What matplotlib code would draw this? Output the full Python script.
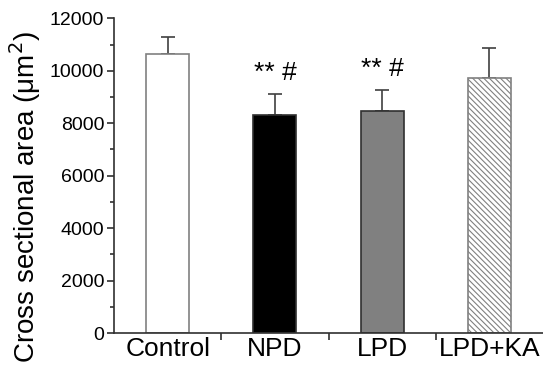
import matplotlib
matplotlib.use("Agg")
import matplotlib.pyplot as plt
import numpy as np

plt.rcParams['font.family'] = ['Liberation Sans', 'DejaVu Sans']
plt.rcParams['hatch.linewidth'] = 0.8

categories = ["Control", "NPD", "LPD", "LPD+KA"]
means = [10650, 8330, 8480, 9720]
errors = [640, 780, 780, 1170]
annotations = ["", "** #", "** #", ""]
fill_colors = ["white", "black", "#808080", "white"]
edge_colors = ["#808080", "#303030", "#303030", "#808080"]
hatches = [None, None, None, "\\\\\\\\\\\\"]

fig = plt.figure(figsize=(5.43, 3.71), dpi=100)
ax = fig.add_axes([0.21, 0.1024, 0.79, 0.848])

x = np.arange(len(categories))
for i in range(len(categories)):
    ax.bar(x[i], means[i], width=0.4, color=fill_colors[i], edgecolor=edge_colors[i],
           linewidth=1.2, hatch=hatches[i], zorder=2)
    ax.errorbar(x[i], means[i], yerr=[[0], [errors[i]]], fmt="none",
                ecolor="#404040", elinewidth=1.2, capsize=5, capthick=1.2, zorder=1)
    if annotations[i]:
        ax.text(x[i], means[i] + errors[i] + 350, annotations[i], ha="center",
                va="bottom", fontsize=19)

ax.set_xlim(-0.5, 3.5)
ax.set_ylim(0, 12000)
ax.set_xticks([0.5, 1.5, 2.5])
ax.set_xticklabels([])
ax.set_xticks(x, minor=True)
ax.set_xticklabels(categories, minor=True, fontsize=19)
ax.tick_params(axis="x", which="minor", length=0, pad=3)
ax.tick_params(axis="x", which="major", length=5, direction="out", width=1.2, color="#303030")
ax.set_yticks(np.arange(0, 12001, 2000))
ax.set_yticks(np.arange(1000, 12000, 2000), minor=True)
ax.tick_params(axis="y", which="major", length=5, width=1.2, labelsize=14, pad=2, color="#303030")
ax.tick_params(axis="y", which="minor", length=3, width=1.2, color="#303030")
for s in ["top", "right"]:
    ax.spines[s].set_visible(False)
for s in ["left", "bottom"]:
    ax.spines[s].set_linewidth(1.2)
    ax.spines[s].set_color("#303030")
fig.text(25 / 543, 1 - 197 / 371, "Cross sectional area (μm$^2$)", fontsize=20,
         rotation=90, ha="center", va="center")

fig.savefig("out.png", dpi=100)
